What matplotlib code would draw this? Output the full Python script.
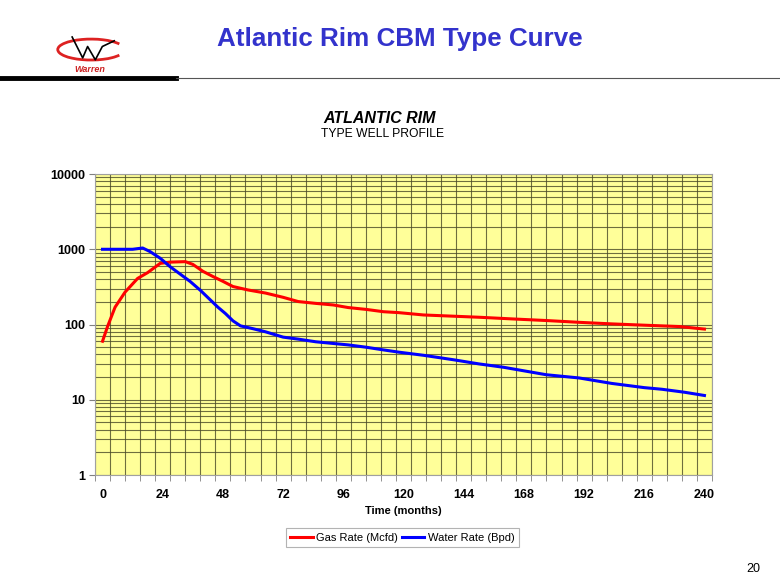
import numpy as np
import matplotlib
matplotlib.use("Agg")
import matplotlib.pyplot as plt
from matplotlib.patches import Arc

plt.rcParams['font.family'] = ['Liberation Sans', 'DejaVu Sans']

# Gas rate (Mcfd)
gas_months = [0, 2, 5, 9, 14, 18, 23, 27, 30, 33, 36, 40, 44, 48, 52, 58, 65, 72, 78, 85,
              92, 98, 105, 112, 118, 128, 140, 150, 165, 177, 190, 203, 216, 230, 240]
gas_rate = [60, 94, 170, 270, 410, 490, 650, 675, 680, 685, 630, 510, 435, 375, 320, 288, 262,
            230, 202, 191, 182, 168, 159, 148, 144, 134, 129, 125, 118, 113, 107, 102, 98, 94, 87]

# Water rate (Bpd)
water_months = [0, 6, 12, 16, 19, 23, 27, 31, 35, 39, 43, 46, 49, 52, 55, 60, 65, 72, 78, 85,
                92, 98, 105, 112, 118, 128, 140, 150, 160, 177, 190, 203, 216, 223, 232, 240]
water_rate = [1000, 1000, 1000, 1040, 930, 760, 585, 467, 372, 285, 212, 170, 140, 112, 96, 88,
              80, 68, 64, 59, 56, 53.6, 50, 46, 43, 39, 34, 30, 27, 21.5, 19.5, 16.5, 14.5, 13.8,
              12.6, 11.4]

x_ticks = [0, 24, 48, 72, 96, 120, 144, 168, 192, 216, 240]
y_ticks = [1, 10, 100, 1000, 10000]

fig = plt.figure(figsize=(7.8, 5.85), dpi=100)

# page header
fig.text(0.513, 0.934, 'Atlantic Rim CBM Type Curve', color='#3333CC', fontsize=18.7,
         fontweight='bold', ha='center', va='center')
fig.add_artist(plt.Line2D([0, 0.225], [0.867, 0.867], color='black', lw=3.5))
fig.add_artist(plt.Line2D([0.225, 1.0], [0.867, 0.867], color='#555555', lw=0.8))

# logo (rough)
logo = fig.add_axes([0.07, 0.875, 0.09, 0.065])
logo.set_xlim(0, 1)
logo.set_ylim(0, 1)
logo.axis('off')
logo.add_patch(Arc((0.52, 0.62), 0.95, 0.55, theta1=20, theta2=340, color='#DD2222', lw=2))
logo.plot([0.25, 0.4, 0.47, 0.58, 0.68, 0.85], [0.95, 0.4, 0.7, 0.35, 0.7, 0.85], color='black', lw=1.2)
logo.text(0.5, 0.1, 'Warren', color='#CC2222', fontsize=6.5, fontweight='bold',
          style='italic', ha='center', va='center')
fig.text(0.966, 0.027, '20', fontsize=9, ha='center', va='center')

# chart titles
fig.text(0.487, 0.798, 'ATLANTIC RIM', fontsize=11.5, fontweight='bold', style='italic',
         ha='center', va='center')
fig.text(0.49, 0.771, 'TYPE WELL PROFILE', fontsize=8.7, ha='center', va='center')

ax = fig.add_axes([0.1218, 0.188, 0.791, 0.5145])
ax.set_facecolor('#FFFF99')
ax.plot(gas_months, gas_rate, color='#FF0000', lw=2.2, label='Gas Rate (Mcfd)')
ax.plot(water_months, water_rate, color='#0000FF', lw=2.2, label='Water Rate (Bpd)')

ax.set_yscale('log')
ax.set_ylim(1, 10000)
ax.set_xlim(-3, 243)
ax.set_xticks(x_ticks)
ax.set_xticks(np.arange(-3, 244, 6), minor=True)
ax.set_yticks(y_ticks)
ax.set_yticklabels([str(v) for v in y_ticks])
ax.grid(True, which='minor', axis='x', color='#4a4a28', lw=0.8, alpha=0.8)
ax.grid(True, which='both', axis='y', color='#4a4a28', lw=0.8, alpha=0.8)
ax.tick_params(axis='x', which='major', length=0, pad=10, labelsize=9)
ax.tick_params(axis='x', which='minor', length=4, color='#808080')
ax.tick_params(axis='y', which='major', length=4, color='#808080', pad=3, labelsize=9)
ax.tick_params(axis='y', which='minor', length=0)
for lbl in ax.get_xticklabels() + ax.get_yticklabels():
    lbl.set_fontweight('bold')
for s in ax.spines.values():
    s.set_color('#A0A0A0')
ax.set_xlabel('Time (months)', fontsize=8, fontweight='bold', labelpad=4)

leg = fig.legend(loc='center', bbox_to_anchor=(0.516, 0.081), ncol=2, fontsize=8,
                 frameon=True, fancybox=False, edgecolor='#A0A0A0', handlelength=2.0,
                 columnspacing=0.4, handletextpad=0.3, borderpad=0.4)
leg.get_frame().set_linewidth(0.8)

plt.savefig('out.png', dpi=100)
